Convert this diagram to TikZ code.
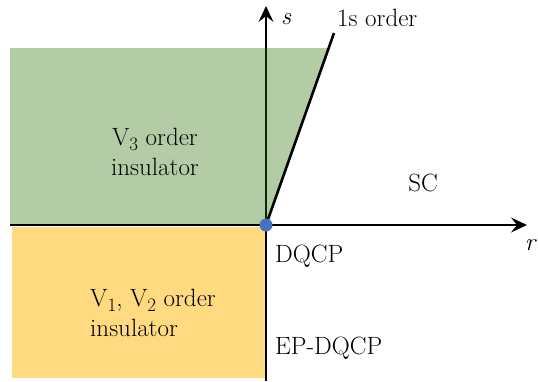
\documentclass[tikz,border=0pt]{standalone}
\usepackage{fontspec}
\usetikzlibrary{arrows.meta}
\definecolor{gfill}{RGB}{180,204,166}
\definecolor{yfill}{RGB}{255,218,128}
\definecolor{dotblue}{RGB}{68,114,196}
\newcommand{\sbs}[1]{\raisebox{-5pt}{\fontsize{19}{19}\selectfont #1}}
\begin{document}
\begin{tikzpicture}[x=1pt,y=-1pt,
  lbl/.style={inner sep=0pt,font=\fontsize{25}{30}\selectfont},
  axis/.style={line width=1.8pt,-{Stealth[length=16pt,width=15pt,inset=6pt]}}]
\useasboundingbox (0,0) rectangle (538,381);
\fill[gfill] (10,48) -- (330,48) -- (266,225) -- (10,225) -- cycle;
\fill[yfill] (12,227) rectangle (266,378);
\coordinate (O) at (266,225);
\coordinate (xl) at (10,225);
\coordinate (xr) at (527,225);
\coordinate (yb) at (266,381);
\coordinate (yt) at (266,6);
\coordinate (gt) at (266,48);
\coordinate (t1) at (334,33);
\draw[axis] (xl) -- (xr);
\draw[line width=1.8pt] (yb) -- (O);
\draw[line width=1.2pt,black!70!green!60!black] (O) -- (gt);
\draw[axis] (gt) -- (yt);
\draw[line width=2.6pt] (O) -- (t1);
\fill[dotblue] (O) circle (6.5);
\node[lbl,anchor=base west] (s) at (281,24) {\textit{s}};
\node[lbl,anchor=base west] (ord) at (337,26) {1s order};
\node[lbl,anchor=base east] (r) at (537,250) {\textit{r}};
\node[lbl,anchor=base] (sc) at (423,191) {SC};
\node[lbl,anchor=base west] (dq) at (275,262) {DQCP};
\node[lbl,anchor=base west] (ep) at (275,354) {EP-DQCP};
\node[lbl,align=center] (v3) at (155,152) {V\sbs{3} order\\insulator};
\node[lbl,align=left] (v12) at (153,313) {V\sbs{1}, V\sbs{2} order\\insulator};
\end{tikzpicture}
\end{document}
